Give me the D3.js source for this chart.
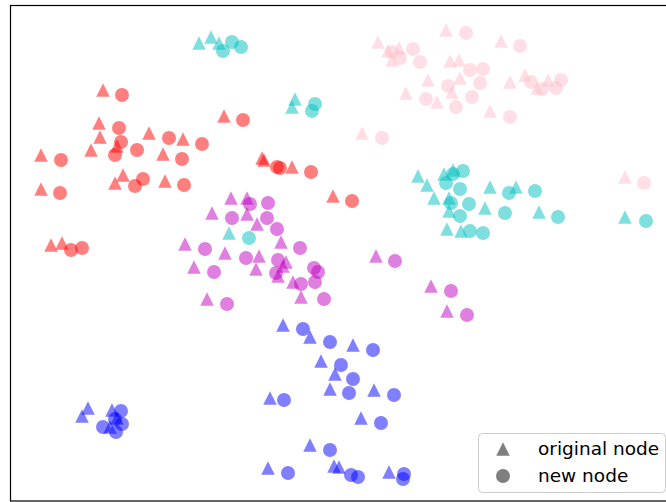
<!DOCTYPE html>
<html>
<head>
<meta charset="utf-8">
<script src="https://cdn.jsdelivr.net/npm/d3@7"></script>
<style>
  html, body { margin: 0; padding: 0; background: #fff; }
  svg { display: block; }
</style>
</head>
<body>
<svg id="chart" width="666" height="502"></svg>
<script>
// 2-D embedding of graph nodes: one pair of arrays per class,
// "original" nodes drawn as triangles, "new" nodes as circles.
const redOriginal = [[103,90],[99,123],[100,137],[91,150],[117,146],[149,133],[183,139],[163,154],[41,155],[224,116],[262,158],[264,160],[292,167],[123,175],[115,183],[165,181],[41,189],[333,196],[51,245],[62,243]];
const redNew = [[122,95],[119,128],[121,142],[115,155],[169,138],[202,144],[137,150],[182,159],[61,160],[243,120],[277,167],[280,168],[311,172],[143,179],[135,186],[184,185],[60,193],[352,201],[71,250],[82,248]];

const pinkOriginal = [[446,30],[378,42],[388,51],[399,48],[392,60],[501,41],[450,61],[459,60],[428,80],[460,78],[452,92],[406,93],[437,102],[510,82],[525,75],[537,88],[548,80],[490,111],[362,133],[625,177]];
const pinkNew = [[466,33],[520,46],[413,49],[392,52],[400,58],[420,62],[470,70],[483,69],[480,83],[448,86],[426,99],[472,97],[456,107],[531,82],[542,89],[556,88],[561,80],[510,117],[382,138],[644,183]];

const cyanOriginal = [[199,43],[211,37],[219,43],[295,99],[292,107],[229,233],[418,176],[444,174],[453,170],[427,185],[434,198],[449,198],[449,211],[447,229],[461,231],[490,187],[516,187],[485,208],[539,212],[625,217]];
const cyanNew = [[223,51],[232,42],[241,47],[315,104],[312,111],[249,238],[463,171],[453,174],[446,183],[460,189],[451,203],[469,204],[460,216],[470,231],[483,233],[509,193],[535,191],[505,213],[558,217],[646,221]];

const magentaOriginal = [[231,198],[247,198],[212,213],[247,214],[257,224],[185,244],[225,253],[259,256],[281,242],[194,267],[256,269],[286,262],[283,266],[278,276],[293,282],[301,297],[207,299],[376,256],[431,286],[447,311]];
const magentaNew = [[250,204],[268,203],[232,218],[267,218],[277,229],[205,249],[246,258],[300,248],[278,260],[276,273],[314,268],[318,272],[315,282],[301,284],[214,272],[227,304],[324,299],[395,261],[451,291],[467,315]];

const blueOriginal = [[283,325],[310,337],[321,361],[353,345],[335,374],[330,389],[374,390],[270,398],[361,418],[310,445],[268,468],[334,466],[339,467],[389,472],[88,408],[82,416],[112,410],[117,418],[110,427]];
const blueNew = [[303,329],[330,342],[373,350],[341,365],[353,379],[349,393],[394,395],[284,400],[381,423],[330,450],[288,473],[351,475],[358,477],[404,474],[403,479],[121,411],[103,427],[116,432],[122,424],[115,419]];

const classes = [
  { color: "#ff0000", original: redOriginal, added: redNew },
  { color: "#ffc0cb", original: pinkOriginal, added: pinkNew },
  { color: "#00bfbf", original: cyanOriginal, added: cyanNew },
  { color: "#bf00bf", original: magentaOriginal, added: magentaNew },
  { color: "#0000ff", original: blueOriginal, added: blueNew }
];

const legendLabels = ["original node", "new node"];

const frame = { left: 10, top: 5, right: 720, bottom: 501 };

const svg = d3.select("#chart");

// embedding coordinates -> screen
const x = d3.scaleLinear().domain([10, 720]).range([frame.left, frame.right]);
const y = d3.scaleLinear().domain([5, 501]).range([frame.top, frame.bottom]);

const triSize = 13.5;
const triPath = `M0,${-triSize/2}L${triSize/2},${triSize/2}L${-triSize/2},${triSize/2}Z`;
const circR = 7;

const plot = svg.append("g");

classes.forEach(c => {
  plot.append("g").selectAll("path")
    .data(c.original)
    .join("path")
    .attr("d", triPath)
    .attr("transform", d => `translate(${x(d[0])},${y(d[1])})`)
    .attr("fill", c.color)
    .attr("fill-opacity", 0.5);

  plot.append("g").selectAll("circle")
    .data(c.added)
    .join("circle")
    .attr("cx", d => x(d[0]))
    .attr("cy", d => y(d[1]))
    .attr("r", circR)
    .attr("fill", c.color)
    .attr("fill-opacity", 0.5);
});

// axes frame (no ticks)
svg.append("rect")
  .attr("x", frame.left + 0.5)
  .attr("y", frame.top + 0.5)
  .attr("width", frame.right - frame.left)
  .attr("height", frame.bottom - frame.top - 0.5)
  .attr("fill", "none")
  .attr("stroke", "#000")
  .attr("stroke-width", 1.2);

// legend
const lg = svg.append("g").attr("transform", "translate(478,433)");
lg.append("rect")
  .attr("x", 0.5).attr("y", 0.5)
  .attr("width", 187).attr("height", 59)
  .attr("rx", 4)
  .attr("fill", "#fff").attr("fill-opacity", 0.85)
  .attr("stroke", "#cccccc").attr("stroke-width", 1);

lg.append("path")
  .attr("d", triPath)
  .attr("transform", "translate(25,16)")
  .attr("fill", "#000").attr("fill-opacity", 0.5);
lg.append("circle")
  .attr("cx", 25).attr("cy", 43).attr("r", circR)
  .attr("fill", "#000").attr("fill-opacity", 0.5);

lg.selectAll("text")
  .data(legendLabels)
  .join("text")
  .attr("x", 60)
  .attr("y", (d, i) => 22 + i * 27)
  .attr("font-family", "DejaVu Sans")
  .attr("font-size", 18.5)
  .attr("fill", "#000")
  .text(d => d);
</script>
</body>
</html>
